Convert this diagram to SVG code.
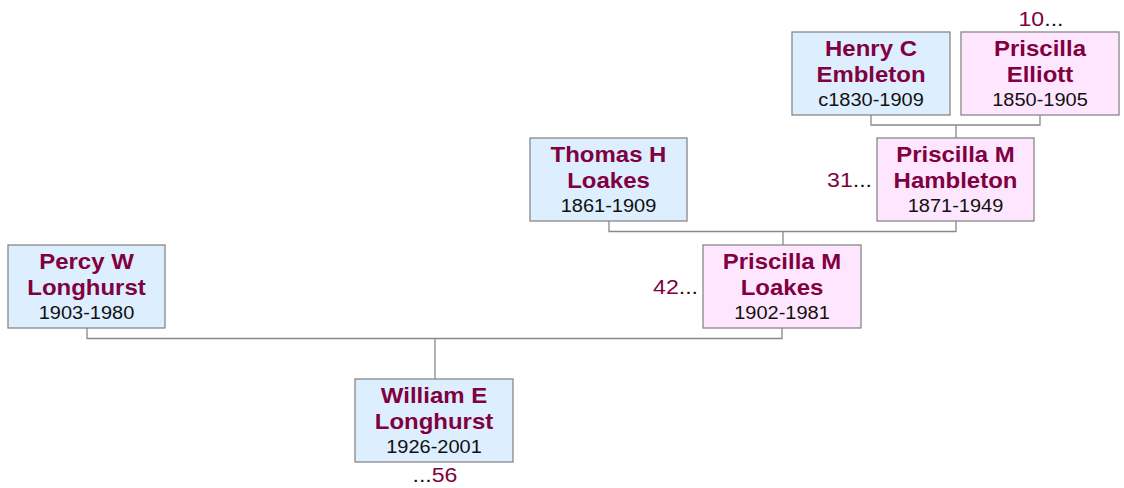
<svg xmlns="http://www.w3.org/2000/svg" width="1124" height="488" viewBox="0 0 1124 488">
<style>
.m{fill:#ddeeff;stroke:#888;stroke-width:1.3}
.f{fill:#ffe6ff;stroke:#888;stroke-width:1.3}
text{font-family:"Liberation Sans",Arial,sans-serif;text-anchor:middle}
.n{font-size:22px;font-weight:bold;fill:#800040}
.d{font-size:18.5px;fill:#111}
.l{font-size:21px;fill:#800040}
.k{fill:#111}
.c{fill:none;stroke:#888;stroke-width:1.3}
</style>
<rect width="1124" height="488" fill="#fff"/>
<g id="connectors">
<polyline class="c" points="871,115 871,125 1040,125 1040,115"/>
<line class="c" x1="956" y1="125" x2="956" y2="138"/>
<polyline class="c" points="609,221 609,231.5 956,231.5 956,221"/>
<line class="c" x1="783" y1="231.5" x2="783" y2="246"/>
<polyline class="c" points="87,328 87,338.5 782,338.5 782,328"/>
<line class="c" x1="435" y1="338.5" x2="435" y2="379"/>
</g>
<g id="henry">
<rect class="m" x="792" y="32" width="158" height="83"/>
<text class="n" transform="translate(871,56) scale(1.09,1)">Henry C</text>
<text class="n" transform="translate(871,82) scale(1.09,1)">Embleton</text>
<text class="d" transform="translate(871,106) scale(1.08,1)">c1830-1909</text>
</g>
<g id="elliott">
<rect class="f" x="961" y="32" width="158" height="83"/>
<text class="n" transform="translate(1040,56) scale(1.09,1)">Priscilla</text>
<text class="n" transform="translate(1040,82) scale(1.09,1)">Elliott</text>
<text class="d" transform="translate(1040,106) scale(1.08,1)">1850-1905</text>
<text class="l" transform="translate(1041,26) scale(1.1,1)">10<tspan class="k">...</tspan></text>
</g>
<g id="thomas">
<rect class="m" x="530" y="138" width="157" height="83"/>
<text class="n" transform="translate(608.5,162) scale(1.09,1)">Thomas H</text>
<text class="n" transform="translate(608.5,188) scale(1.09,1)">Loakes</text>
<text class="d" transform="translate(608.5,212) scale(1.08,1)">1861-1909</text>
</g>
<g id="hambleton">
<rect class="f" x="877" y="138" width="157" height="83"/>
<text class="n" transform="translate(955.5,162) scale(1.09,1)">Priscilla M</text>
<text class="n" transform="translate(955.5,188) scale(1.09,1)">Hambleton</text>
<text class="d" transform="translate(955.5,212) scale(1.08,1)">1871-1949</text>
<text class="l" transform="translate(872,187) scale(1.1,1)" style="text-anchor:end">31<tspan class="k">...</tspan></text>
</g>
<g id="percy">
<rect class="m" x="8" y="245" width="157" height="83"/>
<text class="n" transform="translate(86.5,269) scale(1.09,1)">Percy W</text>
<text class="n" transform="translate(86.5,295) scale(1.09,1)">Longhurst</text>
<text class="d" transform="translate(86.5,319) scale(1.08,1)">1903-1980</text>
</g>
<g id="loakes">
<rect class="f" x="703" y="245" width="158" height="83"/>
<text class="n" transform="translate(782,269) scale(1.09,1)">Priscilla M</text>
<text class="n" transform="translate(782,295) scale(1.09,1)">Loakes</text>
<text class="d" transform="translate(782,319) scale(1.08,1)">1902-1981</text>
<text class="l" transform="translate(698,294) scale(1.1,1)" style="text-anchor:end">42<tspan class="k">...</tspan></text>
</g>
<g id="william">
<rect class="m" x="355" y="379" width="158" height="83"/>
<text class="n" transform="translate(434,403) scale(1.09,1)">William E</text>
<text class="n" transform="translate(434,429) scale(1.09,1)">Longhurst</text>
<text class="d" transform="translate(434,453) scale(1.08,1)">1926-2001</text>
<text class="l" transform="translate(435,482) scale(1.1,1)"><tspan class="k">...</tspan>56</text>
</g>
</svg>
